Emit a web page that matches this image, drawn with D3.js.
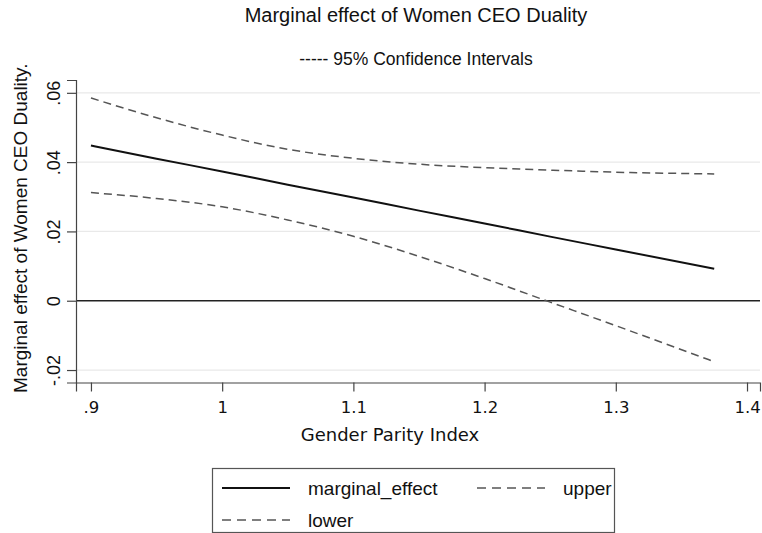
<!DOCTYPE html>
<html>
<head>
<meta charset="utf-8">
<script src="https://cdn.jsdelivr.net/npm/d3@7"></script>
<style>
  body { margin: 0; background: #fff; }
  svg { display: block; }
</style>
</head>
<body>
<svg id="chart" width="762" height="533"></svg>
<script>
// ---- data ----
const gpi = [0.9, 0.95, 1.0, 1.05, 1.1, 1.15, 1.2, 1.25, 1.3, 1.375];
const marginalEffect = [0.0448, 0.0410, 0.0373, 0.0335, 0.0298, 0.0260, 0.0223, 0.0185, 0.0148, 0.0092];
const upper = [0.0585, 0.0528, 0.0478, 0.0437, 0.0411, 0.0394, 0.0384, 0.0377, 0.0371, 0.0366];
const lower = [0.0312, 0.0295, 0.0271, 0.0233, 0.0186, 0.0128, 0.0064, -0.0004, -0.0072, -0.0176];

const xTickValues = [0.9, 1.0, 1.1, 1.2, 1.3, 1.4];
const xTickLabels = [".9", "1", "1.1", "1.2", "1.3", "1.4"];
const yTickValues = [-0.02, 0, 0.02, 0.04, 0.06];
const yTickLabels = ["-.02", "0", ".02", ".04", ".06"];

const titleText = "Marginal effect of Women CEO Duality";
const subtitleText = "-----  95% Confidence Intervals";
const xTitle = "Gender Parity Index";
const yTitle = "Marginal effect of Women CEO Duality.";
const legendLabels = ["marginal_effect", "upper", "lower"];

// ---- layout ----
const svg = d3.select("#chart");
const plot = { left: 76, right: 760, top: 80, bottom: 382.5 };

const x = d3.scaleLinear().domain([0.8886, 1.4099]).range([plot.left, plot.right]);
const y = d3.scaleLinear().domain([-0.0236, 0.0637]).range([plot.bottom, plot.top]);

const sans = "'Liberation Sans', Arial, sans-serif";
const dv = "'DejaVu Sans', Verdana, sans-serif";

// gridlines
svg.append("g").selectAll("line").data(yTickValues.filter(v => v !== 0)).join("line")
  .attr("x1", plot.left).attr("x2", plot.right)
  .attr("y1", d => y(d)).attr("y2", d => y(d))
  .attr("stroke", "#e9e9e9").attr("stroke-width", 1.2);

// zero reference line
svg.append("line")
  .attr("x1", plot.left).attr("x2", plot.right)
  .attr("y1", y(0)).attr("y2", y(0))
  .attr("stroke", "#222").attr("stroke-width", 1.6);

// y axis
const yAxis = svg.append("g").attr("transform", `translate(${plot.left},0)`)
  .call(d3.axisLeft(y).tickValues(yTickValues).tickSize(9)
    .tickFormat((d, i) => yTickLabels[i]));
yAxis.select(".domain").attr("stroke", "#444").attr("stroke-width", 1.2);
yAxis.selectAll(".tick line").attr("stroke", "#444").attr("stroke-width", 1.2);
yAxis.selectAll(".tick text")
  .attr("font-family", sans).attr("font-size", 18).attr("fill", "#111")
  .attr("text-anchor", "middle")
  .attr("x", 0).attr("dy", 0)
  .attr("transform", "translate(-16,0) rotate(-90)");

// x axis
const xAxis = svg.append("g").attr("transform", `translate(0,${plot.bottom})`)
  .call(d3.axisBottom(x).tickValues(xTickValues).tickSize(9)
    .tickFormat((d, i) => xTickLabels[i]));
xAxis.select(".domain").attr("stroke", "#444").attr("stroke-width", 1.2);
xAxis.selectAll(".tick line").attr("stroke", "#444").attr("stroke-width", 1.2);
xAxis.selectAll(".tick text")
  .attr("font-family", dv).attr("font-size", 16.5).attr("fill", "#111")
  .attr("y", 30).attr("dy", 0);

// series
const rows = gpi.map((g, i) => ({ g, me: marginalEffect[i], up: upper[i], lo: lower[i] }));
const mkLine = key => d3.line().x(d => x(d.g)).y(d => y(d[key])).curve(d3.curveMonotoneX);

svg.append("path").datum(rows).attr("d", mkLine("up"))
  .attr("fill", "none").attr("stroke", "#555").attr("stroke-width", 1.5)
  .attr("stroke-dasharray", "8,5");
svg.append("path").datum(rows).attr("d", mkLine("lo"))
  .attr("fill", "none").attr("stroke", "#555").attr("stroke-width", 1.5)
  .attr("stroke-dasharray", "8,5");
svg.append("path").datum(rows).attr("d", mkLine("me"))
  .attr("fill", "none").attr("stroke", "#111").attr("stroke-width", 2);

// titles
svg.append("text").attr("x", 416).attr("y", 22)
  .attr("text-anchor", "middle").attr("font-family", sans).attr("font-size", 20)
  .attr("fill", "#111").text(titleText);
svg.append("text").attr("x", 416).attr("y", 65)
  .attr("text-anchor", "middle").attr("font-family", sans).attr("font-size", 17.5)
  .attr("fill", "#111").text(subtitleText);
svg.append("text").attr("x", 390).attr("y", 441)
  .attr("text-anchor", "middle").attr("font-family", dv).attr("font-size", 18)
  .attr("fill", "#111").text(xTitle);
svg.append("text")
  .attr("transform", `translate(27,${(plot.top + plot.bottom) / 2 - 3}) rotate(-90)`)
  .attr("text-anchor", "middle").attr("font-family", sans).attr("font-size", 19)
  .attr("fill", "#111").text(yTitle);

// legend
const lg = svg.append("g");
lg.append("rect").attr("x", 212.5).attr("y", 468.5).attr("width", 402).attr("height", 64)
  .attr("fill", "#fff").attr("stroke", "#555").attr("stroke-width", 1.2);
const legendItems = [
  { label: legendLabels[0], x: 222, y: 488, dash: null, color: "#111", w: 2 },
  { label: legendLabels[1], x: 477, y: 488, dash: "9,6", color: "#555", w: 1.5 },
  { label: legendLabels[2], x: 222, y: 520, dash: "9,6", color: "#555", w: 1.5 }
];
legendItems.forEach(it => {
  lg.append("line").attr("x1", it.x).attr("x2", it.x + 68)
    .attr("y1", it.y).attr("y2", it.y)
    .attr("stroke", it.color).attr("stroke-width", it.w)
    .attr("stroke-dasharray", it.dash);
  lg.append("text").attr("x", it.x + 86).attr("y", it.y + 6.5)
    .attr("font-family", sans).attr("font-size", 19).attr("fill", "#111")
    .text(it.label);
});
</script>
</body>
</html>
